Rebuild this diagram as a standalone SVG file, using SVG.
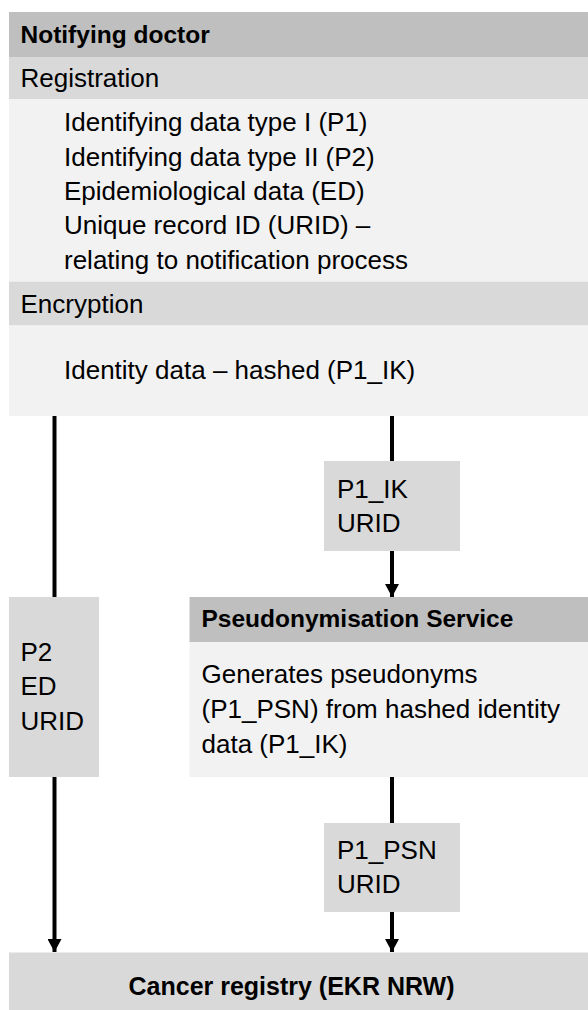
<svg xmlns="http://www.w3.org/2000/svg" width="588" height="1010" viewBox="0 0 588 1010">
  <style>
    text { font-family: "Liberation Sans", Arial, sans-serif; fill: #000; }
    .t { font-size: 26px; }
    .b { font-size: 24.5px; font-weight: bold; }
    .dark { fill: #bfbfbf; }
    .mid { fill: #d9d9d9; }
    .light { fill: #f2f2f2; }
    .flow { stroke: #000; stroke-width: 4; fill: none; }
  </style>
  <defs>
    <marker id="arrow" markerUnits="userSpaceOnUse" markerWidth="13" markerHeight="14" refX="13" refY="7" orient="auto">
      <path d="M0,0 L13,7 L0,14 z" fill="#000"/>
    </marker>
  </defs>
  <rect width="588" height="1010" fill="#fff"/>

  <!-- Notifying doctor panel -->
  <g id="notifying-doctor">
    <rect class="dark" x="9" y="12" width="579" height="45"/>
    <text class="b" x="20.5" y="43">Notifying doctor</text>
    <rect class="mid" x="9" y="57" width="579" height="42"/>
    <text class="t" x="20.5" y="87">Registration</text>
    <rect class="light" x="9" y="99" width="579" height="182"/>
    <text class="t" x="64" y="131">Identifying data type I (P1)</text>
    <text class="t" x="64" y="165.5">Identifying data type II (P2)</text>
    <text class="t" x="64" y="200">Epidemiological data (ED)</text>
    <text class="t" x="64" y="234">Unique record ID (URID) –</text>
    <text class="t" x="64" y="268.5">relating to notification process</text>
    <rect class="mid" x="9" y="281.5" width="579" height="44"/>
    <text class="t" x="20.5" y="313">Encryption</text>
    <rect class="light" x="9" y="325.5" width="579" height="90.5"/>
    <text class="t" x="64" y="378.5">Identity data – hashed (P1_IK)</text>
  </g>

  <!-- Connectors -->
  <g id="connectors">
    <line class="flow" x1="54.5" y1="416" x2="54.5" y2="597"/>
    <line class="flow" x1="54.5" y1="777" x2="54.5" y2="952" marker-end="url(#arrow)"/>
    <line class="flow" x1="392" y1="416" x2="392" y2="461"/>
    <line class="flow" x1="392" y1="551" x2="392" y2="597" marker-end="url(#arrow)"/>
    <line class="flow" x1="392" y1="777" x2="392" y2="823"/>
    <line class="flow" x1="392" y1="912" x2="392" y2="952" marker-end="url(#arrow)"/>
  </g>

  <!-- Hashed identity data label -->
  <g id="p1-ik">
    <rect class="mid" x="324" y="461" width="136" height="90"/>
    <text class="t" x="337" y="497.5">P1_IK</text>
    <text class="t" x="337" y="531.5">URID</text>
  </g>

  <!-- Data sent directly -->
  <g id="p2-ed-urid">
    <rect class="mid" x="9" y="597" width="90" height="180"/>
    <text class="t" x="20.5" y="660.5">P2</text>
    <text class="t" x="20.5" y="695">ED</text>
    <text class="t" x="20.5" y="729.5">URID</text>
  </g>

  <!-- Pseudonymisation service -->
  <g id="pseudonymisation-service">
    <rect class="dark" x="189.5" y="597" width="398.5" height="45"/>
    <text class="b" x="201.5" y="627">Pseudonymisation Service</text>
    <rect class="light" x="189.5" y="642" width="398.5" height="135"/>
    <text class="t" x="201.5" y="683">Generates pseudonyms</text>
    <text class="t" x="201.5" y="718">(P1_PSN) from hashed identity</text>
    <text class="t" x="201.5" y="752.5">data (P1_IK)</text>
  </g>

  <!-- Pseudonym label -->
  <g id="p1-psn">
    <rect class="mid" x="324" y="823" width="136" height="89"/>
    <text class="t" x="337" y="859">P1_PSN</text>
    <text class="t" x="337" y="893">URID</text>
  </g>

  <!-- Cancer registry -->
  <g id="cancer-registry">
    <rect class="mid" x="9" y="952.5" width="579" height="57.5"/>
    <text class="b" x="128.5" y="994.5" style="font-size:25px">Cancer registry (EKR NRW)</text>
  </g>
</svg>
